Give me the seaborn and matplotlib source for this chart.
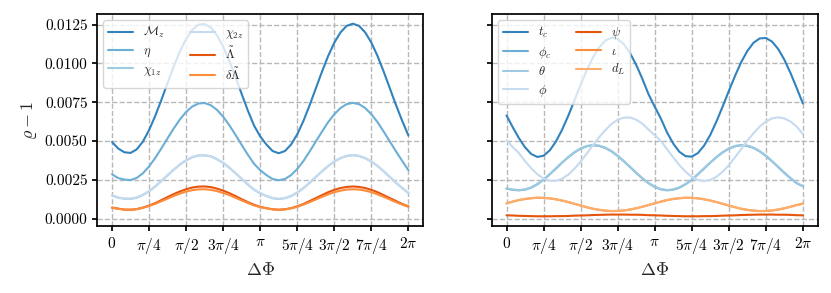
import numpy as np
import pandas as pd
import matplotlib
matplotlib.use("Agg")
import matplotlib.pyplot as plt
from matplotlib.ticker import MultipleLocator, FormatStrFormatter
import seaborn as sns

# phase offset grid, pi/24 steps over [0, 2pi]
dphi = np.arange(49) * np.pi / 24

# left panel: intrinsic parameters
M_z = [0.00494, 0.00452, 0.00428, 0.00424, 0.00447, 0.00497, 0.00571, 0.00663, 0.00766, 0.00875, 0.00982, 0.01078,
       0.01158, 0.01217, 0.01250, 0.01254, 0.01231, 0.01181, 0.01107, 0.01015, 0.00912, 0.00803, 0.00696, 0.00600,
       0.00530, 0.00478, 0.00436, 0.00422, 0.00436, 0.00478, 0.00544, 0.00630, 0.00731, 0.00839, 0.00947, 0.01048,
       0.01134, 0.01200, 0.01242, 0.01256, 0.01242, 0.01200, 0.01134, 0.01048, 0.00947, 0.00839, 0.00731, 0.00630,
       0.00536]
eta = [0.00286, 0.00262, 0.00252, 0.00249, 0.00263, 0.00293, 0.00337, 0.00392, 0.00454, 0.00519, 0.00582, 0.00640,
       0.00688, 0.00723, 0.00742, 0.00745, 0.00731, 0.00701, 0.00657, 0.00602, 0.00540, 0.00475, 0.00412, 0.00354,
       0.00313, 0.00281, 0.00256, 0.00248, 0.00256, 0.00281, 0.00321, 0.00372, 0.00433, 0.00497, 0.00561, 0.00622,
       0.00673, 0.00713, 0.00738, 0.00746, 0.00738, 0.00713, 0.00673, 0.00622, 0.00561, 0.00497, 0.00433, 0.00372,
       0.00312]
chi1z = [0.00150, 0.00135, 0.00129, 0.00128, 0.00135, 0.00153, 0.00177, 0.00208, 0.00243, 0.00280, 0.00316, 0.00349,
         0.00376, 0.00396, 0.00407, 0.00408, 0.00401, 0.00383, 0.00359, 0.00328, 0.00293, 0.00256, 0.00220, 0.00187,
         0.00164, 0.00146, 0.00132, 0.00127, 0.00132, 0.00146, 0.00168, 0.00197, 0.00231, 0.00268, 0.00305, 0.00339,
         0.00368, 0.00390, 0.00404, 0.00409, 0.00404, 0.00390, 0.00368, 0.00339, 0.00305, 0.00268, 0.00231, 0.00197,
         0.00166]
chi2z = [0.00152, 0.00137, 0.00131, 0.00130, 0.00137, 0.00155, 0.00179, 0.00210, 0.00245, 0.00282, 0.00318, 0.00351,
         0.00378, 0.00398, 0.00409, 0.00410, 0.00403, 0.00385, 0.00361, 0.00330, 0.00295, 0.00258, 0.00222, 0.00189,
         0.00166, 0.00148, 0.00134, 0.00129, 0.00134, 0.00148, 0.00170, 0.00199, 0.00233, 0.00270, 0.00307, 0.00341,
         0.00370, 0.00392, 0.00406, 0.00411, 0.00406, 0.00392, 0.00370, 0.00341, 0.00307, 0.00270, 0.00233, 0.00199,
         0.00168]
lam = [0.00072, 0.00065, 0.00059, 0.00058, 0.00062, 0.00072, 0.00085, 0.00101, 0.00120, 0.00140, 0.00159, 0.00176,
       0.00190, 0.00201, 0.00207, 0.00208, 0.00204, 0.00194, 0.00181, 0.00165, 0.00146, 0.00126, 0.00107, 0.00090,
       0.00077, 0.00068, 0.00061, 0.00058, 0.00061, 0.00068, 0.00080, 0.00095, 0.00114, 0.00133, 0.00152, 0.00171,
       0.00186, 0.00198, 0.00205, 0.00208, 0.00205, 0.00198, 0.00186, 0.00171, 0.00152, 0.00133, 0.00114, 0.00095,
       0.00080]
dlam = [0.00070, 0.00064, 0.00059, 0.00058, 0.00062, 0.00070, 0.00082, 0.00096, 0.00113, 0.00130, 0.00147, 0.00162,
        0.00175, 0.00184, 0.00189, 0.00190, 0.00186, 0.00178, 0.00166, 0.00152, 0.00135, 0.00118, 0.00101, 0.00086,
        0.00075, 0.00067, 0.00060, 0.00058, 0.00060, 0.00067, 0.00077, 0.00091, 0.00107, 0.00124, 0.00141, 0.00157,
        0.00171, 0.00181, 0.00188, 0.00190, 0.00188, 0.00181, 0.00171, 0.00157, 0.00141, 0.00124, 0.00107, 0.00091,
        0.00077]

# right panel: extrinsic parameters
t_c = [0.00665, 0.00590, 0.00520, 0.00460, 0.00417, 0.00398, 0.00406, 0.00440, 0.00497, 0.00573, 0.00663, 0.00762,
       0.00862, 0.00956, 0.01039, 0.01104, 0.01147, 0.01166, 0.01158, 0.01124, 0.01067, 0.00991, 0.00901, 0.00802,
       0.00722, 0.00645, 0.00556, 0.00484, 0.00431, 0.00403, 0.00400, 0.00423, 0.00471, 0.00540, 0.00626, 0.00722,
       0.00822, 0.00919, 0.01008, 0.01080, 0.01133, 0.01161, 0.01164, 0.01141, 0.01093, 0.01024, 0.00938, 0.00842,
       0.00742]
phi_c = [0.00194, 0.00186, 0.00183, 0.00187, 0.00200, 0.00222, 0.00251, 0.00286, 0.00323, 0.00361, 0.00396, 0.00427,
         0.00451, 0.00467, 0.00473, 0.00469, 0.00456, 0.00434, 0.00405, 0.00370, 0.00333, 0.00295, 0.00260, 0.00229,
         0.00205, 0.00189, 0.00183, 0.00187, 0.00200, 0.00222, 0.00251, 0.00286, 0.00323, 0.00361, 0.00396, 0.00427,
         0.00451, 0.00467, 0.00473, 0.00469, 0.00456, 0.00434, 0.00405, 0.00370, 0.00333, 0.00295, 0.00260, 0.00229,
         0.00209]
theta = [0.00196, 0.00188, 0.00185, 0.00189, 0.00202, 0.00224, 0.00253, 0.00288, 0.00325, 0.00363, 0.00398, 0.00429,
         0.00453, 0.00469, 0.00475, 0.00471, 0.00458, 0.00436, 0.00407, 0.00372, 0.00335, 0.00297, 0.00262, 0.00231,
         0.00207, 0.00191, 0.00185, 0.00189, 0.00202, 0.00224, 0.00253, 0.00288, 0.00325, 0.00363, 0.00398, 0.00429,
         0.00453, 0.00469, 0.00475, 0.00471, 0.00458, 0.00436, 0.00407, 0.00372, 0.00335, 0.00297, 0.00262, 0.00231,
         0.00211]
phi = [0.00505, 0.00462, 0.00423, 0.00371, 0.00325, 0.00286, 0.00259, 0.00245, 0.00244, 0.00258, 0.00284, 0.00322,
       0.00368, 0.00420, 0.00473, 0.00525, 0.00571, 0.00610, 0.00637, 0.00651, 0.00652, 0.00638, 0.00612, 0.00574,
       0.00539, 0.00501, 0.00448, 0.00395, 0.00345, 0.00303, 0.00270, 0.00250, 0.00243, 0.00250, 0.00270, 0.00303,
       0.00345, 0.00395, 0.00448, 0.00501, 0.00551, 0.00593, 0.00626, 0.00646, 0.00653, 0.00646, 0.00626, 0.00593,
       0.00545]
psi = [0.00022, 0.00021, 0.00019, 0.00018, 0.00017, 0.00016, 0.00016, 0.00016, 0.00017, 0.00017, 0.00018, 0.00020,
       0.00021, 0.00022, 0.00024, 0.00025, 0.00026, 0.00027, 0.00027, 0.00027, 0.00026, 0.00026, 0.00025, 0.00023,
       0.00022, 0.00021, 0.00019, 0.00018, 0.00017, 0.00016, 0.00016, 0.00016, 0.00017, 0.00017, 0.00018, 0.00020,
       0.00021, 0.00022, 0.00024, 0.00025, 0.00026, 0.00027, 0.00027, 0.00027, 0.00026, 0.00026, 0.00025, 0.00023,
       0.00022]
iota = [0.00099, 0.00110, 0.00120, 0.00127, 0.00132, 0.00135, 0.00134, 0.00131, 0.00125, 0.00117, 0.00107, 0.00096,
        0.00085, 0.00074, 0.00064, 0.00057, 0.00052, 0.00049, 0.00050, 0.00053, 0.00059, 0.00067, 0.00077, 0.00088,
        0.00099, 0.00110, 0.00120, 0.00127, 0.00132, 0.00135, 0.00134, 0.00131, 0.00125, 0.00117, 0.00107, 0.00096,
        0.00085, 0.00074, 0.00064, 0.00057, 0.00052, 0.00049, 0.00050, 0.00053, 0.00059, 0.00067, 0.00077, 0.00088,
        0.00097]
d_L = [0.00100, 0.00111, 0.00121, 0.00128, 0.00133, 0.00136, 0.00135, 0.00132, 0.00126, 0.00118, 0.00108, 0.00097,
       0.00086, 0.00075, 0.00065, 0.00058, 0.00053, 0.00050, 0.00051, 0.00054, 0.00060, 0.00068, 0.00078, 0.00089,
       0.00100, 0.00111, 0.00121, 0.00128, 0.00133, 0.00136, 0.00135, 0.00132, 0.00126, 0.00118, 0.00108, 0.00097,
       0.00086, 0.00075, 0.00065, 0.00058, 0.00053, 0.00050, 0.00051, 0.00054, 0.00060, 0.00068, 0.00078, 0.00089,
       0.00098]

left_names = [r'$\mathcal{M}_z$', r'$\eta$', r'$\chi_{1z}$', r'$\chi_{2z}$', r'$\tilde{\Lambda}$',
              r'$\delta\tilde{\Lambda}$']
left_vals = [M_z, eta, chi1z, chi2z, lam, dlam]
right_names = [r'$t_c$', r'$\phi_c$', r'$\theta$', r'$\phi$', r'$\psi$', r'$\iota$', r'$d_L$']
right_vals = [t_c, phi_c, theta, phi, psi, iota, d_L]

xtick_labels = [r'$0$', r'$\pi/4$', r'$\pi/2$', r'$3\pi/4$', r'$\pi$', r'$5\pi/4$', r'$3\pi/2$',
                r'$7\pi/4$', r'$2\pi$']

pal = sns.color_palette('tab20c')
left_colors = [pal[0], pal[1], pal[2], pal[3], pal[4], pal[5]]
right_colors = [pal[0], pal[1], pal[2], pal[3], pal[4], pal[5], pal[6]]


def to_long(names, vals):
    frames = [pd.DataFrame({'dphi': dphi, 'rho': v, 'param': n}) for n, v in zip(names, vals)]
    return pd.concat(frames, ignore_index=True)


sns.set_theme(style='whitegrid', rc={
    'axes.edgecolor': 'black',
    'axes.linewidth': 1.25,
    'grid.linestyle': '--',
    'grid.color': '#b8b8b8',
    'grid.linewidth': 1.0,
    'xtick.bottom': True,
    'ytick.left': True,
    'xtick.major.size': 3.5,
    'ytick.major.size': 3.5,
    'xtick.color': 'black',
    'ytick.color': 'black',
})
plt.rcParams['font.family'] = 'serif'
plt.rcParams['font.serif'] = ['cmr10', 'DejaVu Serif']
plt.rcParams['mathtext.fontset'] = 'cm'
plt.rcParams['axes.formatter.use_mathtext'] = True
plt.rcParams['axes.unicode_minus'] = False

fig, (ax1, ax2) = plt.subplots(ncols=2, figsize=(8.31, 2.93), dpi=100, sharey=True)
fig.subplots_adjust(left=0.117, right=0.984, bottom=0.229, top=0.952, wspace=0.21)

for ax, names, vals, cols in [(ax1, left_names, left_vals, left_colors),
                              (ax2, right_names, right_vals, right_colors)]:
    sns.lineplot(data=to_long(names, vals), x='dphi', y='rho', hue='param', hue_order=names,
                 palette=cols, linewidth=1.5, ax=ax)
    ax.set_xticks(np.arange(9) * np.pi / 4)
    ax.set_xticklabels(xtick_labels, fontsize=11)
    ax.tick_params(axis='y', labelsize=11)
    ax.set_xlabel(r'$\Delta\Phi$', fontsize=13)
    ax.legend(loc='upper left', ncol=2, fontsize=9, framealpha=0.8, labelspacing=0.35)

ax1.yaxis.set_major_locator(MultipleLocator(0.0025))
ax1.yaxis.set_major_formatter(FormatStrFormatter('%.4f'))
ax1.set_ylabel(r'$\varrho - 1$', fontsize=13)
ax2.set_ylabel('')

fig.savefig('out.png', dpi=100)
